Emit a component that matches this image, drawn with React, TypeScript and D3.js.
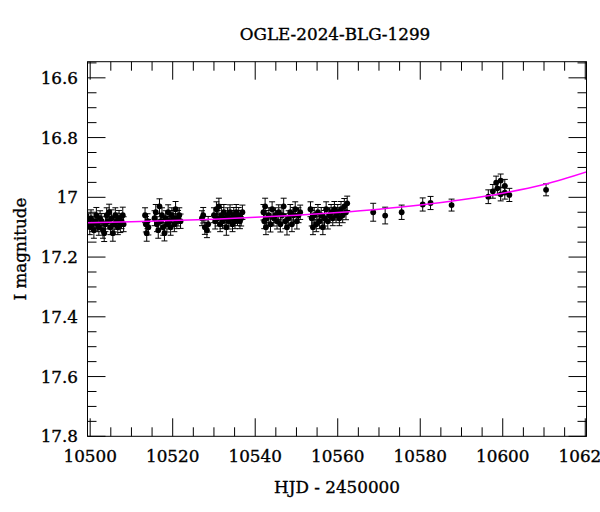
import React from 'react';
import * as d3 from 'd3';

const title = 'OGLE-2024-BLG-1299';
const xLabel = 'HJD - 2450000';
const yLabel = 'I magnitude';

const xTickValues = [10500, 10520, 10540, 10560, 10580, 10600, 10620];
const xTickLabels = ['10500', '10520', '10540', '10560', '10580', '10600', '10620'];
const yTickValues = [16.6, 16.8, 17, 17.2, 17.4, 17.6, 17.8];
const yTickLabels = ['16.6', '16.8', '17', '17.2', '17.4', '17.6', '17.8'];

// Observations
const hjd = [
  10499.6,10499.9,10500.2,10500.5,10500.9,10501.2,10501.5,10501.8,10502.1,10502.4,10502.8,10503.1,10503.4,10503.7,10504.0,10504.3,10504.6,10504.9,10505.2,10505.5,10505.8,10506.1,10506.4,10506.7,10507.0,10507.3,10507.6,10507.9,10508.1,
  10513.3,10513.5,10513.7,10513.9,10514.1,10515.6,10515.9,10516.2,10516.5,10516.8,10517.1,10517.4,10517.7,10518.0,10518.3,10518.6,10518.9,10519.2,10519.5,10519.8,10520.1,10520.4,10520.7,10521.0,10521.3,10521.6,10521.9,
  10527.1,10527.4,10527.8,10528.3,10528.6,10530.0,10530.3,10530.6,10530.9,10531.2,10531.5,10531.8,10532.1,10532.4,10532.7,10533.0,10533.3,10533.6,10533.9,10534.2,10534.5,10534.8,10535.1,10535.4,10535.7,10536.0,10536.3,10536.6,10536.9,
  10542.0,10542.2,10542.4,10542.6,10542.8,10543.3,10543.7,10544.1,10544.5,10544.9,10545.3,10545.7,10546.1,10546.5,10546.9,10547.3,10547.7,10548.1,10548.5,10548.9,10549.3,10549.7,10550.1,10550.5,10550.9,
  10553.4,10553.7,10554.0,10554.3,10554.8,10555.2,10555.6,10556.0,10556.4,10556.8,10557.2,10557.6,10558.0,10558.4,10558.8,10559.2,10559.6,10560.0,10560.4,10560.8,10561.2,10561.6,10562.0,10562.3,
  10568.6,10571.5,10575.5,10580.6,10582.5,10587.6,10596.5,10597.6,10598.4,10598.7,10599.5,10599.5,10600.5,10600.5,10601.6,10610.5,
];
const mag = [
  17.08,17.10,17.07,17.09,17.11,17.08,17.06,17.09,17.10,17.07,17.08,17.11,17.12,17.09,17.06,17.08,17.05,17.10,17.07,17.12,17.09,17.06,17.08,17.10,17.07,17.09,17.08,17.06,17.09,
  17.06,17.09,17.12,17.08,17.10,17.07,17.05,17.09,17.11,17.03,17.08,17.06,17.10,17.12,17.07,17.09,17.05,17.08,17.10,17.06,17.07,17.09,17.04,17.08,17.07,17.06,17.08,
  17.07,17.06,17.10,17.11,17.09,17.06,17.08,17.04,17.07,17.03,17.09,17.06,17.08,17.05,17.07,17.10,17.06,17.08,17.05,17.07,17.09,17.06,17.08,17.05,17.07,17.06,17.08,17.07,17.05,
  17.05,17.08,17.03,17.10,17.07,17.06,17.09,17.04,17.07,17.06,17.08,17.05,17.09,17.06,17.03,17.08,17.10,17.07,17.05,17.09,17.06,17.04,17.08,17.06,17.05,
  17.04,17.07,17.10,17.06,17.09,17.05,17.08,17.06,17.10,17.07,17.04,17.08,17.06,17.05,17.07,17.04,17.06,17.05,17.07,17.04,17.06,17.03,17.05,17.02,
  17.050,17.061,17.050,17.024,17.019,17.026,16.998,16.980,16.951,16.970,16.944,16.990,16.962,16.984,16.992,16.975,
];
const magErr = [
  0.025,0.025,0.028,0.025,0.027,0.025,0.026,0.025,0.027,0.025,0.026,0.027,0.028,0.025,0.025,0.026,0.027,0.025,0.028,0.027,0.026,0.025,0.027,0.025,0.026,0.028,0.025,0.027,0.025,
  0.025,0.026,0.027,0.025,0.026,0.025,0.026,0.025,0.027,0.025,0.026,0.025,0.027,0.026,0.025,0.026,0.025,0.026,0.027,0.025,0.026,0.025,0.026,0.025,0.026,0.025,0.024,
  0.025,0.026,0.024,0.025,0.026,0.025,0.026,0.025,0.026,0.027,0.025,0.026,0.025,0.026,0.025,0.027,0.025,0.026,0.025,0.026,0.025,0.026,0.025,0.026,0.025,0.026,0.025,0.026,0.024,
  0.026,0.025,0.027,0.025,0.026,0.025,0.026,0.025,0.026,0.025,0.026,0.025,0.026,0.025,0.027,0.025,0.026,0.025,0.026,0.025,0.026,0.025,0.026,0.025,0.024,
  0.025,0.026,0.025,0.026,0.025,0.026,0.025,0.026,0.025,0.026,0.025,0.026,0.025,0.026,0.025,0.026,0.025,0.026,0.025,0.026,0.025,0.026,0.025,0.024,
  0.030,0.028,0.024,0.022,0.022,0.020,0.023,0.023,0.022,0.022,0.022,0.022,0.022,0.022,0.022,0.020,
];

// Model curve
const modelHjd = [10499, 10510, 10520, 10530, 10540, 10550, 10560, 10570, 10580, 10590, 10600, 10610, 10621];
const modelMag = [17.085, 17.082, 17.078, 17.073, 17.067, 17.060, 17.051, 17.040, 17.026, 17.008, 16.986, 16.957, 16.912];

const W = 600;
const H = 512;
const L = 87.5, R = 586.5, T = 61.7, B = 436.3;
const FONT = '"DejaVu Serif", serif';
const FS = 16.8;

export default function App() {
  const x = d3.scaleLinear().domain([10499.35, 10620.3]).range([L, R]);
  const y = d3.scaleLinear().domain([16.546, 17.8]).range([T, B]);

  const xMinor = d3.range(10500, 10621, 5).filter((v) => v % 20 !== 0);
  const yMinor = d3.range(16.55, 17.8, 0.05).filter((v) => Math.abs(Math.round(v * 5) - v * 5) > 1e-6);

  const line = d3
    .line<number>()
    .x((d, i) => x(modelHjd[i]))
    .y((d, i) => y(modelMag[i]))
    .curve(d3.curveMonotoneX);

  const majorLen = 18;
  const minorLen = 9;
  const tickStroke = '#000';
  const textStroke = { stroke: '#000', strokeWidth: 0.35 };

  return (
    <svg
      width={W}
      height={H}
      style={{ position: 'absolute', left: 0, top: 0, background: '#fff' }}
      fontFamily={FONT}
    >
      <rect x={0} y={0} width={W} height={H} fill="#fff" />
      <defs>
        <clipPath id="plotclip">
          <rect x={L} y={T} width={R - L} height={B - T} />
        </clipPath>
      </defs>

      {/* ticks */}
      <g stroke={tickStroke} strokeWidth={1}>
        {xTickValues.map((v) => (
          <g key={'xm' + v}>
            <line x1={x(v)} x2={x(v)} y1={B} y2={B - majorLen} />
            <line x1={x(v)} x2={x(v)} y1={T} y2={T + majorLen} />
          </g>
        ))}
        {xMinor.map((v) => (
          <g key={'xn' + v}>
            <line x1={x(v)} x2={x(v)} y1={B} y2={B - minorLen} />
            <line x1={x(v)} x2={x(v)} y1={T} y2={T + minorLen} />
          </g>
        ))}
        {yTickValues.map((v) => (
          <g key={'ym' + v}>
            <line x1={L} x2={L + majorLen} y1={y(v)} y2={y(v)} />
            <line x1={R} x2={R - majorLen} y1={y(v)} y2={y(v)} />
          </g>
        ))}
        {yMinor.map((v) => (
          <g key={'yn' + v}>
            <line x1={L} x2={L + minorLen} y1={y(v)} y2={y(v)} />
            <line x1={R} x2={R - minorLen} y1={y(v)} y2={y(v)} />
          </g>
        ))}
      </g>

      {/* data */}
      <g clipPath="url(#plotclip)">
        <g stroke="#000" strokeWidth={1}>
          {hjd.map((t, i) => {
            const cx = x(t);
            const y1 = y(mag[i] - magErr[i]);
            const y2 = y(mag[i] + magErr[i]);
            return (
              <g key={'e' + i}>
                <line x1={cx} x2={cx} y1={y1} y2={y2} />
                <line x1={cx - 3} x2={cx + 3} y1={y1} y2={y1} />
                <line x1={cx - 3} x2={cx + 3} y1={y2} y2={y2} />
              </g>
            );
          })}
        </g>
        <g fill="#000">
          {hjd.map((t, i) => (
            <circle key={'p' + i} cx={x(t)} cy={y(mag[i])} r={2.9} />
          ))}
        </g>
        <path d={line(modelHjd) || ''} fill="none" stroke="#ff00ff" strokeWidth={1.5} />
      </g>

      {/* frame */}
      <rect x={L} y={T} width={R - L} height={B - T} fill="none" stroke="#000" strokeWidth={1} />

      {/* tick labels */}
      <g fontSize={FS} fill="#000" {...textStroke}>
        {xTickValues.map((v, i) => (
          <text key={'xl' + v} x={x(v)} y={462} textAnchor="middle">
            {xTickLabels[i]}
          </text>
        ))}
        {yTickValues.map((v, i) => (
          <text key={'yl' + v} x={78} y={y(v)} dy="0.36em" textAnchor="end">
            {yTickLabels[i]}
          </text>
        ))}
      </g>

      {/* titles */}
      <g fontSize={FS} fill="#000" {...textStroke}>
        <text x={335} y={40} textAnchor="middle">
          {title}
        </text>
        <text x={337} y={493} textAnchor="middle">
          {xLabel}
        </text>
        <text transform={`translate(26, ${(T + B) / 2}) rotate(-90)`} textAnchor="middle">
          {yLabel}
        </text>
      </g>
    </svg>
  );
}
